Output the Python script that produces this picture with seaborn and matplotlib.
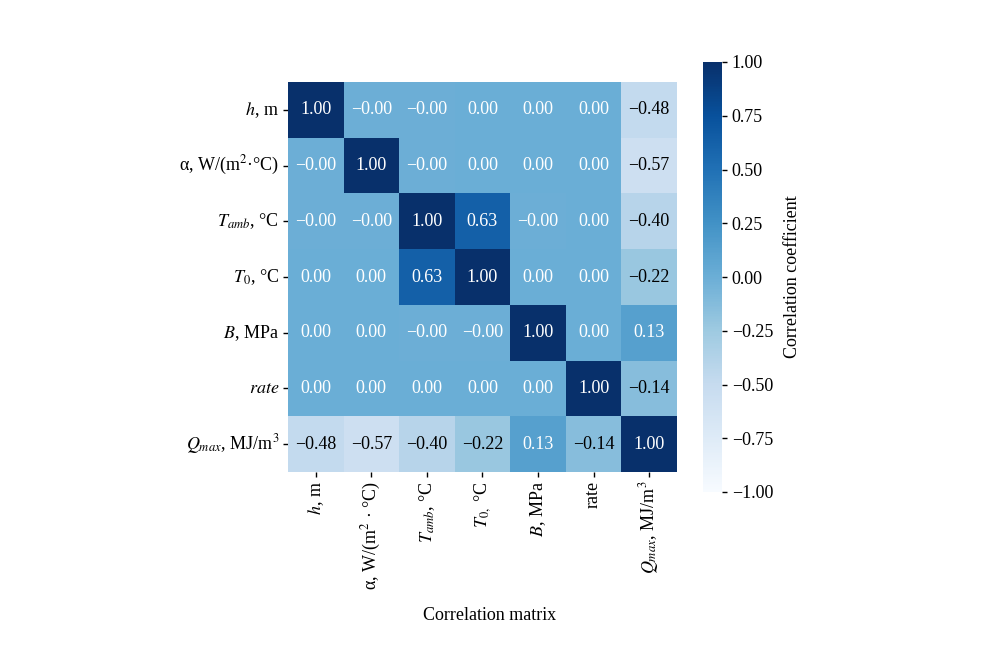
import numpy as np
import pandas as pd
import seaborn as sns
import matplotlib.pyplot as plt

# row / column labels (y axis uses italic "rate", x axis plain)
row_labels = ['$h$, m', 'α, W/(m$^{2}$·°C)', '$T_{amb}$, °C', '$T_{0}$, °C',
              '$B$, MPa', '$rate$', '$Q_{max}$, MJ/m$^{3}$']
col_labels = ['$h$, m', 'α, W/(m$^{2}$ · °C)', '$T_{amb}$, °C', '$T_{0,}$ °C',
              '$B$, MPa', 'rate', '$Q_{max}$, MJ/m$^{3}$']

# correlation values (-0.001 -> shown as "-0.00")
h_row = [1.00, -0.001, -0.001, 0.00, 0.00, 0.00, -0.48]
alpha_row = [-0.001, 1.00, -0.001, 0.00, 0.00, 0.00, -0.57]
tamb_row = [-0.001, -0.001, 1.00, 0.63, -0.001, 0.00, -0.40]
t0_row = [0.00, 0.00, 0.63, 1.00, 0.00, 0.00, -0.22]
b_row = [0.00, 0.00, -0.001, -0.001, 1.00, 0.00, 0.13]
rate_row = [0.00, 0.00, 0.00, 0.00, 0.00, 1.00, -0.14]
q_row = [-0.48, -0.57, -0.40, -0.22, 0.13, -0.14, 1.00]

cbar_ticks = [-1.00, -0.75, -0.50, -0.25, 0.00, 0.25, 0.50, 0.75, 1.00]

corr = pd.DataFrame([h_row, alpha_row, tamb_row, t0_row, b_row, rate_row, q_row],
                    index=row_labels, columns=col_labels)
annot = corr.map(lambda v: f"{v:.2f}".replace("-", "\u2212"))

sns.set_theme(style='white')
plt.rcParams['font.family'] = ['Liberation Serif', 'DejaVu Serif']
plt.rcParams['mathtext.fontset'] = 'stix'
plt.rcParams['axes.unicode_minus'] = True
for key in ['text.color', 'axes.labelcolor', 'xtick.color', 'ytick.color']:
    plt.rcParams[key] = 'black'

fig = plt.figure(figsize=(9.91, 6.7), dpi=100)
ax = fig.add_axes([288 / 991, (670 - 472) / 670, 389 / 991, 390 / 670])
cax = fig.add_axes([703 / 991, (670 - 492) / 670, 19 / 991, 430 / 670])

sns.heatmap(corr, ax=ax, cbar_ax=cax, cmap='Blues', vmin=-1, vmax=1,
            annot=annot.values, fmt='', annot_kws={'fontsize': 13},
            cbar_kws={'label': 'Correlation coefficient', 'ticks': cbar_ticks})

# dark annotation text in pure black like the original
for t in ax.texts:
    if t.get_color() != 'w':
        t.set_color('black')

ax.tick_params(axis='both', which='both', length=3.5, width=1, color='black',
               labelsize=13, bottom=True, left=True, pad=3)
ax.set_xticklabels(col_labels, rotation=90)
ax.set_yticklabels(row_labels, rotation=0)
ax.set_xlabel('Correlation matrix', fontsize=13)
ax.xaxis.set_label_coords((490 - 288) / 389, -0.345)
ax.set_ylabel('')

cax.tick_params(labelsize=13, length=3.5, width=1, color='black', right=True, pad=3.5)
cax.set_yticklabels([f"{t:.2f}".replace("-", "\u2212") for t in cbar_ticks])
cax.set_ylabel('Correlation coefficient', fontsize=13, labelpad=8)

fig.savefig('out.png', dpi=100)
